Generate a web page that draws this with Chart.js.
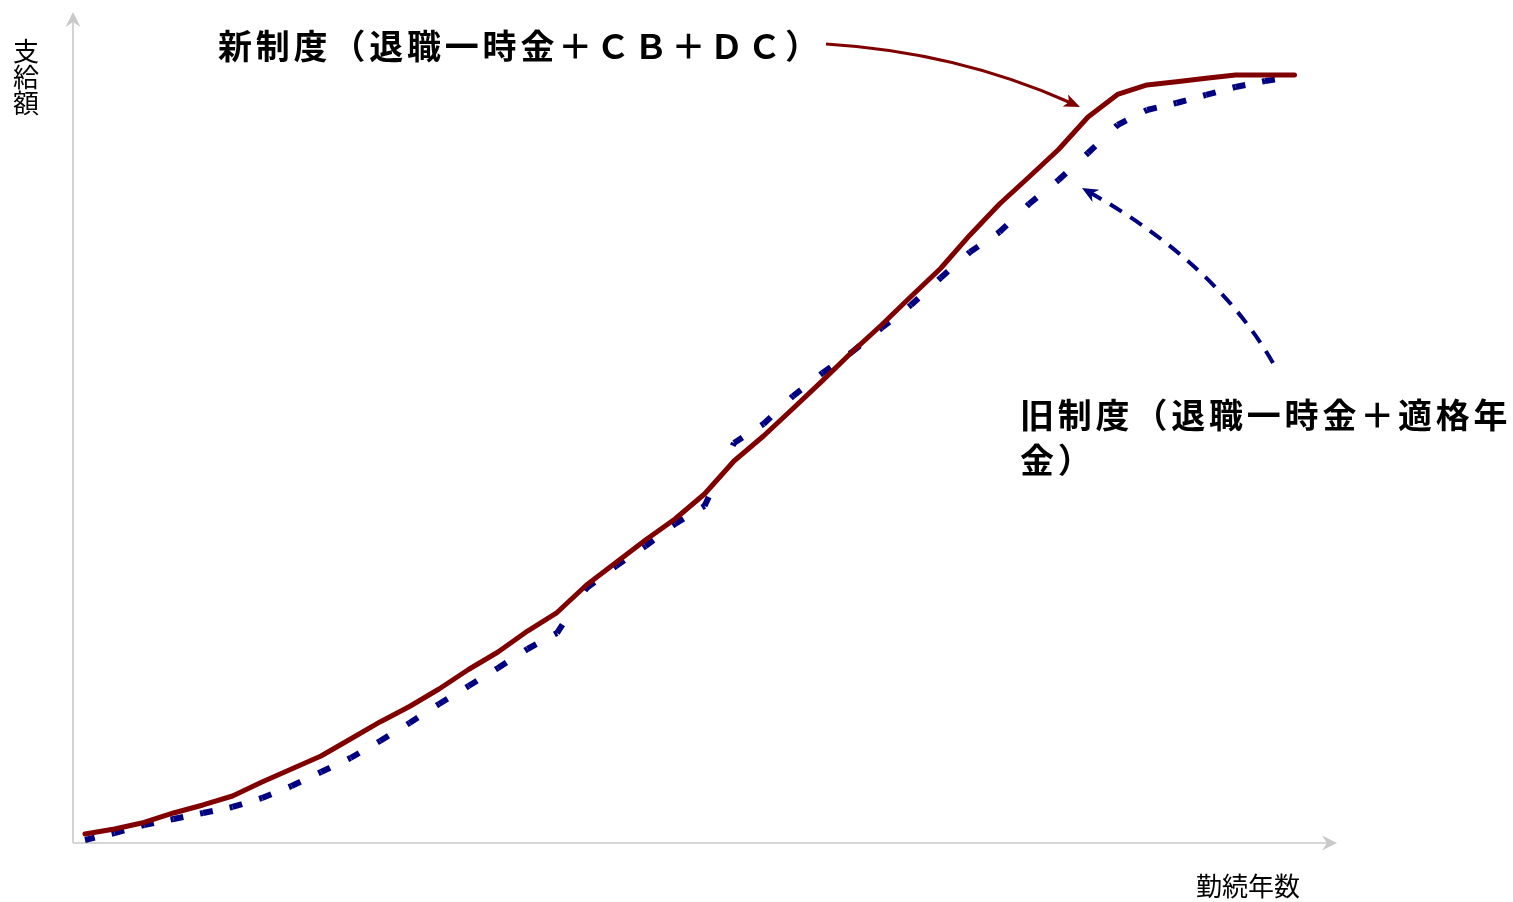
<!DOCTYPE html>
<html>
<head>
<meta charset="utf-8">
<script src="https://cdn.jsdelivr.net/npm/chart.js@4.4.1/dist/chart.umd.min.js"></script>
<style>
  html, body { margin: 0; padding: 0; background: #fff; overflow: hidden; }
  #wrap { position: relative; width: 1513px; height: 902px; }
</style>
</head>
<body>
<div id="wrap"><canvas id="c" width="1513" height="902"></canvas></div>
<script>
// 勤続年数 (years of service)
const years = [0, 1, 2, 3, 4, 5, 6, 7, 8, 9, 10, 11, 12, 13, 14, 15, 16, 17, 18, 19, 20,
               21, 22, 23, 24, 25, 26, 27, 28, 29, 30, 31, 32, 33, 34, 35, 36, 37, 38, 39, 40, 41];

// 新制度（退職一時金＋ＣＢ＋ＤＣ） — relative benefit level
const newPlan = [1.17, 1.82, 2.67, 3.91, 4.95, 6.12, 7.94, 9.64, 11.33, 13.54, 15.76,
                 17.77, 20.05, 22.59, 24.87, 27.60, 30.01, 33.59, 36.52, 39.45, 42.19,
                 45.44, 49.74, 52.99, 56.58, 60.20, 63.93, 67.45, 71.16, 74.80, 79.17,
                 83.20, 86.72, 90.30, 94.53, 97.46, 98.70, 99.13, 99.57, 100.0, 100.0, 100.0];

// 旧制度（退職一時金＋適格年金） — relative benefit level
const oldPlan = [0.39, 1.30, 2.34, 3.13, 3.91, 4.69, 5.86, 7.42, 9.24, 11.07, 13.28,
                 15.63, 18.10, 20.44, 22.79, 25.26, 27.34, 33.20, 36.07, 38.67, 41.54,
                 43.88, 52.08, 54.56, 58.20, 61.20, 63.93, 67.06, 70.05, 73.57, 76.95,
                 79.56, 83.20, 86.33, 89.84, 93.49, 95.44, 96.35, 97.40, 98.44, 99.22, 99.74];

const yAxisTitle = ['支', '給', '額'];
const xAxisTitle = '勤続年数';
const newLabel = '新制度（退職一時金＋ＣＢ＋ＤＣ）';
const oldLabelLines = ['旧制度（退職一時金＋適格年', '金）'];

const RED = '#800000';
const NAVY = '#000080';
const AXIS = '#c9c9c9';
const FONT = '"Noto Sans CJK JP", "Noto Sans CJK SC", sans-serif';

// filled "stealth" arrowhead with its tip at (x, y) pointing along angle
function arrowHead(ctx, x, y, angle, len, half, notch, color) {
  const c = Math.cos(angle), s = Math.sin(angle);
  const bx = x - c * len, by = y - s * len;
  ctx.save();
  ctx.fillStyle = color;
  ctx.beginPath();
  ctx.moveTo(x, y);
  ctx.lineTo(bx - s * half, by + c * half);
  ctx.lineTo(x - c * (len - notch), y - s * (len - notch));
  ctx.lineTo(bx + s * half, by - c * half);
  ctx.closePath();
  ctx.fill();
  ctx.restore();
}

// curved callout: quadratic curve p0 -> p2 with control p1, arrowhead at p2
function callout(ctx, p0, p1, p2, color, width, dash, head) {
  const ang = Math.atan2(p2[1] - p1[1], p2[0] - p1[0]);
  const ex = p2[0] - Math.cos(ang) * (head.len - head.notch - 1);
  const ey = p2[1] - Math.sin(ang) * (head.len - head.notch - 1);
  ctx.save();
  ctx.strokeStyle = color;
  ctx.lineWidth = width;
  ctx.lineCap = 'butt';
  ctx.setLineDash(dash);
  ctx.beginPath();
  ctx.moveTo(p0[0], p0[1]);
  ctx.quadraticCurveTo(p1[0], p1[1], ex, ey);
  ctx.stroke();
  ctx.restore();
  arrowHead(ctx, p2[0], p2[1], ang, head.len, head.half, head.notch, color);
}

const decorations = {
  id: 'decorations',
  beforeDatasetsDraw(chart) {
    const { ctx, chartArea: a } = chart;
    ctx.save();
    ctx.strokeStyle = AXIS;
    ctx.lineWidth = 1.6;
    ctx.beginPath();
    ctx.moveTo(a.left, a.bottom);
    ctx.lineTo(a.right - 10, a.bottom);
    ctx.moveTo(a.left, a.bottom);
    ctx.lineTo(a.left, a.top + 10);
    ctx.stroke();
    ctx.restore();
    arrowHead(ctx, a.right, a.bottom, 0, 15, 7.5, 5, AXIS);
    arrowHead(ctx, a.left, a.top, -Math.PI / 2, 15, 7.5, 5, AXIS);

    // axis titles
    ctx.save();
    ctx.fillStyle = '#000';
    ctx.font = '400 26px ' + FONT;
    ctx.textAlign = 'center';
    ctx.textBaseline = 'middle';
    yAxisTitle.forEach((ch, i) => ctx.fillText(ch, 26, 51 + i * 26));
    ctx.fillText(xAxisTitle, 1248, 886);
    ctx.restore();
  },
  afterDraw(chart) {
    const { ctx } = chart;
    ctx.save();
    ctx.fillStyle = '#000';
    ctx.font = '700 34px ' + FONT;
    ctx.textAlign = 'left';
    ctx.textBaseline = 'middle';
    ctx.letterSpacing = '3.8px';
    ctx.fillText(newLabel, 218, 46);
    oldLabelLines.forEach((t, i) => ctx.fillText(t, 1020, 415 + i * 45));
    ctx.restore();

    callout(ctx, [826, 44], [957, 52], [1080, 107], RED, 3.2, [],
            { len: 16, half: 6.5, notch: 4 });
    callout(ctx, [1273, 363], [1216, 264], [1082, 188], NAVY, 4, [14, 10],
            { len: 16, half: 7, notch: 5 });
  }
};

const lastSeg = years.length - 2;

new Chart(document.getElementById('c'), {
  type: 'line',
  data: {
    datasets: [
      {
        label: '新制度',
        data: years.map((x, i) => ({ x, y: newPlan[i] })),
        borderColor: RED,
        borderWidth: 5,
        borderCapStyle: 'round',
        borderJoinStyle: 'round',
        pointRadius: 0,
        tension: 0,
        fill: false
      },
      {
        label: '旧制度',
        data: years.map((x, i) => ({ x, y: oldPlan[i] })),
        borderColor: NAVY,
        borderWidth: 6,
        borderCapStyle: 'butt',
        borderJoinStyle: 'miter',
        pointRadius: 0,
        tension: 0,
        fill: false,
        // each segment restarts its dash so a dash straddles every data point
        segment: {
          borderDash: c => {
            const L = Math.hypot(c.p1.x - c.p0.x, c.p1.y - c.p0.y);
            return c.p0DataIndex === lastSeg ? [10, 10000] : [10, Math.max(L - 13, 0), 3, 10000];
          },
          borderDashOffset: c => (c.p0DataIndex % 2 ? 0.001 : 0)
        }
      }
    ]
  },
  options: {
    responsive: false,
    animation: false,
    devicePixelRatio: 1,
    layout: { padding: { left: 73, right: 176, top: 12, bottom: 59 } },
    plugins: { legend: { display: false }, tooltip: { enabled: false } },
    scales: {
      x: { type: 'linear', min: -0.407, max: 42.44, display: false },
      y: { type: 'linear', min: 0, max: 108.2, display: false }
    }
  },
  plugins: [decorations]
});
</script>
</body>
</html>
